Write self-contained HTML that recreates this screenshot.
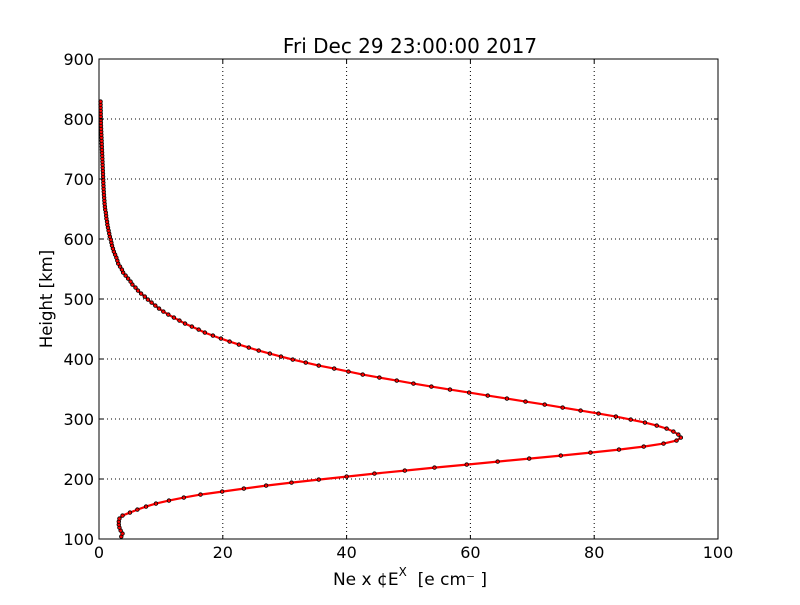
<!DOCTYPE html>
<html><head><meta charset="utf-8"><style>
body{margin:0;background:#fff;}
svg text{font-family:"DejaVu Sans","Liberation Sans",sans-serif;}
</style></head><body>
<svg id="chart" width="800" height="600">
<rect width="800" height="600" fill="#fff"/>
<g id="grid"></g>
<g id="plot"></g>
<rect x="99" y="59" width="619" height="480" fill="none" stroke="#000" stroke-width="1"/>
<g id="ticks"></g>
<text x="410" y="53" font-size="20" text-anchor="middle">Fri Dec 29 23:00:00 2017</text>
<text x="410" y="585" font-size="17" text-anchor="middle">Ne x ¢E<tspan dy="-9" font-size="12">X</tspan><tspan dy="9" xml:space="preserve">  [e cm⁻ ]</tspan></text>
<text x="52" y="299" font-size="16.5" text-anchor="middle" transform="rotate(-90 52 299)">Height [km]</text>
</svg>
<script>
const heights=[104,109,114,119,124,129,134,139,144,149,154,159,164,169,174,179,184,189,194,199,204,209,
214,219,224,229,234,239,244,249,254,259,264,269,274,279,284,289,294,299,304,309,314,319,324,329,334,339,344,349,354,359,364,369,374,
379,384,389,394,399,404,409,414,419,424,429,434,439,444,449,454,459,464,469,474,479,484,489,494,499,504,509,514,519,524,529,534,539,544,549,554,559,564,
569,574,579,584,589,594,599,604,609,614,619,624,629,634,639,644,649,654,659,664,669,674,679,684,689,694,699,
704,709,714,719,724,729,734,739,744,749,754,759,764,769,774,779,784,789,794,799,804,809,814,819,824,829];
const density=[3.6,3.8,3.5,3.3,3.2,3.2,3.3,3.8,5.0,6.2,7.6,9.2,11.3,13.7,16.4,19.9,23.4,27.0,31.1,35.5,40.0,44.5,
49.4,54.2,59.4,64.4,69.5,74.6,79.4,84.0,88.0,91.2,93.3,94.0,93.6,92.8,91.7,90.1,88.2,85.9,83.5,80.7,77.8,74.9,72.0,68.9,65.9,62.8,59.8,56.7,53.7,50.8,48.1,45.3,42.6,
40.3,38.0,35.5,33.4,31.3,29.4,27.6,25.8,24.2,22.6,21.1,19.7,18.4,17.1,16.1,15.0,13.9,13.0,12.1,11.2,10.4,9.7,9.1,8.5,7.9,7.4,6.8,6.3,5.9,5.4,5.1,4.7,4.3,3.9,3.7,3.4,3.1,2.96,
2.8,2.6,2.4,2.25,2.1,2.0,1.9,1.75,1.65,1.55,1.45,1.35,1.3,1.2,1.15,1.1,1.0,0.95,0.9,0.87,0.83,0.8,0.77,0.74,0.72,0.7,0.68,
0.66,0.64,0.62,0.6,0.58,0.56,0.54,0.52,0.5,0.48,0.46,0.44,0.42,0.4,0.38,0.36,0.34,0.32,0.31,0.3,0.29,0.28,0.27,0.26,0.25,0.25];
const xTicks=[0,20,40,60,80,100];
const yTicks=[100,200,300,400,500,600,700,800,900];
const NS="http://www.w3.org/2000/svg";
const X=v=>99+v*6.19, Y=h=>539-(h-100)*0.6;
const grid=document.getElementById('grid'),ticks=document.getElementById('ticks'),plot=document.getElementById('plot');
function mk(tag,attrs,parent){const e=document.createElementNS(NS,tag);for(const k in attrs)e.setAttribute(k,attrs[k]);parent.appendChild(e);return e;}
xTicks.forEach(t=>{
 const x=X(t);
 const g=mk('line',{x1:x,x2:x,y1:59,y2:539,stroke:'#000','stroke-dasharray':'1,3','stroke-width':1},grid);
 
 
 mk('line',{x1:x,x2:x,y1:539,y2:535,stroke:'#000'},ticks);
 mk('line',{x1:x,x2:x,y1:59,y2:63,stroke:'#000'},ticks);
 const l=mk('text',{x:x,y:558,'font-size':16,'text-anchor':'middle'},ticks);l.textContent=t;
 
 
});
yTicks.forEach(t=>{
 const y=Y(t);
 const g=mk('line',{x1:99,x2:718,y1:y,y2:y,stroke:'#000','stroke-dasharray':'1,3','stroke-width':1},grid);
 
 
 mk('line',{x1:99,x2:103,y1:y,y2:y,stroke:'#000'},ticks);
 mk('line',{x1:714,x2:718,y1:y,y2:y,stroke:'#000'},ticks);
 const l=mk('text',{x:94,y:y+6,'font-size':16,'text-anchor':'end'},ticks);l.textContent=t;
 
 
});
const pts=heights.map((h,i)=>X(density[i]).toFixed(1)+','+Y(h).toFixed(1)).join(' ');
const line=mk('polyline',{points:pts,fill:'none',stroke:'#f00','stroke-width':2.2},plot);


heights.forEach((h,i)=>{
 const c=mk('circle',{cx:X(density[i]),cy:Y(h),r:1.8,fill:'#f00',stroke:'#000','stroke-width':0.8},plot);
 
 
});
</script>
</body></html>
